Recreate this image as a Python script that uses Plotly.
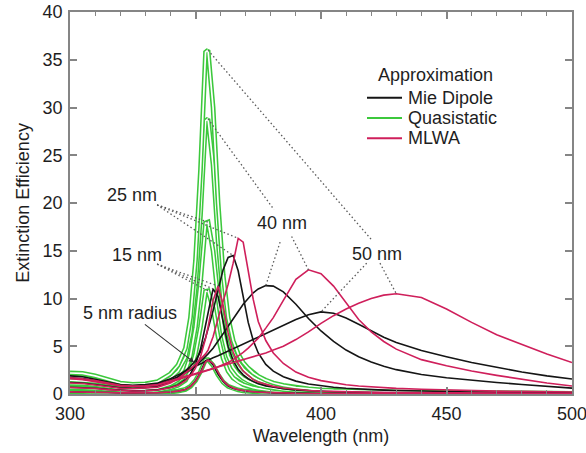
import plotly.graph_objects as go

# ---------------- data ----------------
WL = [300, 305, 310, 315, 320, 325, 330, 335, 340, 343, 346, 348, 350, 352, 354, 355, 357, 359,
      361, 363, 365, 367, 369, 371, 373, 375, 378, 381, 385, 390, 395, 400, 405, 410, 415, 420,
      425, 430, 440, 450, 460, 470, 480, 490, 500]

# Quasistatic
Q50 = [2.2, 2.15, 1.9, 1.5, 1.15, 1.0, 1.05, 1.3, 2.1, 3.0, 4.8, 8.0, 14.0, 23.5, 35.8, 36.0, 30.0, 20.0,
       12.5, 8.0, 5.6, 4.2, 3.3, 2.7, 2.2, 1.85, 1.45, 1.15, 0.9, 0.68, 0.54, 0.44, 0.37, 0.32, 0.28, 0.24,
       0.21, 0.19, 0.16, 0.13, 0.11, 0.1, 0.09, 0.08, 0.07]
Q40 = [1.76, 1.72, 1.52, 1.2, 0.92, 0.8, 0.84, 1.04, 1.68, 2.4, 3.84, 6.4, 11.2, 18.8, 28.6, 28.8, 24.0, 16.0,
       10.0, 6.4, 4.48, 3.36, 2.64, 2.16, 1.76, 1.48, 1.16, 0.92, 0.72, 0.54, 0.43, 0.35, 0.3, 0.26, 0.22, 0.19,
       0.17, 0.15, 0.13, 0.1, 0.09, 0.08, 0.07, 0.06, 0.06]
Q25 = [1.1, 1.08, 0.95, 0.75, 0.58, 0.5, 0.53, 0.65, 1.05, 1.5, 2.4, 4.0, 7.0, 11.75, 17.9, 18.0, 15.0, 10.0,
       6.25, 4.0, 2.8, 2.1, 1.65, 1.35, 1.1, 0.93, 0.73, 0.58, 0.45, 0.34, 0.27, 0.22, 0.19, 0.16, 0.14, 0.12,
       0.11, 0.1, 0.08, 0.07, 0.06, 0.05, 0.05, 0.04, 0.04]
Q15 = [0.66, 0.65, 0.57, 0.45, 0.35, 0.3, 0.32, 0.39, 0.63, 0.9, 1.44, 2.4, 4.2, 7.05, 10.74, 10.8, 9.0, 6.0,
       3.75, 2.4, 1.68, 1.26, 0.99, 0.81, 0.66, 0.56, 0.44, 0.35, 0.27, 0.2, 0.16, 0.13, 0.11, 0.1, 0.08, 0.07,
       0.06, 0.06, 0.05, 0.04, 0.03, 0.03, 0.03, 0.02, 0.02]
Q5 = [0.22, 0.22, 0.19, 0.15, 0.12, 0.1, 0.11, 0.13, 0.21, 0.3, 0.48, 0.8, 1.4, 2.35, 3.58, 3.6, 3.0, 2.0,
      1.25, 0.8, 0.56, 0.42, 0.33, 0.27, 0.22, 0.19, 0.15, 0.12, 0.09, 0.07, 0.05, 0.04, 0.04, 0.03, 0.03, 0.02,
      0.02, 0.02, 0.02, 0.01, 0.01, 0.01, 0.01, 0.01, 0.01]

# Mie dipole
M50 = [1.9, 1.8, 1.55, 1.25, 1.0, 0.92, 0.98, 1.15, 1.6, 2.0, 2.4, 2.65, 2.95, 3.2, 3.45, 3.55, 3.8, 4.0,
       4.25, 4.5, 4.75, 5.0, 5.25, 5.5, 5.75, 5.95, 6.35, 6.7, 7.2, 7.8, 8.3, 8.6, 8.45, 7.95, 7.3, 6.6,
       5.95, 5.4, 4.55, 3.9, 3.3, 2.8, 2.3, 1.9, 1.57]
M40 = [1.7, 1.62, 1.42, 1.15, 0.92, 0.85, 0.9, 1.05, 1.45, 1.8, 2.2, 2.5, 2.9, 3.4, 3.9, 4.2, 4.8, 5.5,
       6.3, 7.1, 7.9, 8.7, 9.4, 10.0, 10.6, 11.0, 11.35, 11.3, 10.7, 9.4, 7.9, 6.6, 5.5, 4.6, 3.9, 3.35,
       2.9, 2.55, 2.05, 1.7, 1.42, 1.2, 1.0, 0.8, 0.62]
M25 = [1.2, 1.15, 1.0, 0.8, 0.65, 0.6, 0.65, 0.8, 1.3, 1.8, 2.5, 2.9, 3.5, 4.4, 5.9, 6.8, 8.7, 10.9,
       13.0, 14.3, 14.5, 12.9, 10.0, 7.5, 5.6, 4.3, 3.1, 2.4, 1.8, 1.35, 1.05, 0.85, 0.7, 0.6, 0.52, 0.46,
       0.41, 0.37, 0.3, 0.25, 0.21, 0.18, 0.16, 0.14, 0.12]
M15 = [0.7, 0.68, 0.6, 0.48, 0.38, 0.33, 0.35, 0.43, 0.68, 0.95, 1.5, 2.1, 3.1, 4.7, 7.2, 8.6, 11.0, 10.2,
       7.4, 5.0, 3.5, 2.6, 2.0, 1.6, 1.3, 1.08, 0.85, 0.7, 0.55, 0.42, 0.34, 0.28, 0.24, 0.21, 0.18, 0.16,
       0.14, 0.13, 0.11, 0.09, 0.08, 0.07, 0.06, 0.06, 0.05]
M5 = [0.22, 0.22, 0.19, 0.15, 0.12, 0.1, 0.11, 0.13, 0.21, 0.3, 0.48, 0.79, 1.38, 2.3, 3.5, 3.6, 3.05, 2.05,
      1.3, 0.83, 0.58, 0.43, 0.34, 0.28, 0.23, 0.19, 0.15, 0.12, 0.09, 0.07, 0.05, 0.04, 0.04, 0.03, 0.03, 0.02,
      0.02, 0.02, 0.02, 0.01, 0.01, 0.01, 0.01, 0.01, 0.01]

# MLWA
L50 = [1.7, 1.6, 1.4, 1.12, 0.9, 0.82, 0.86, 1.0, 1.35, 1.6, 1.85, 2.0, 2.15, 2.3, 2.45, 2.52, 2.65, 2.8,
       2.95, 3.1, 3.25, 3.4, 3.55, 3.7, 3.85, 4.0, 4.3, 4.6, 5.0, 5.7, 6.5, 7.4, 8.2, 8.9, 9.5, 10.0,
       10.35, 10.5, 10.1, 8.9, 7.5, 6.2, 5.2, 4.2, 3.3]
L40 = [1.6, 1.5, 1.3, 1.05, 0.85, 0.78, 0.82, 0.95, 1.25, 1.5, 1.75, 1.9, 2.05, 2.2, 2.38, 2.47, 2.65, 2.85,
       3.05, 3.3, 3.6, 3.95, 4.35, 4.8, 5.3, 5.85, 6.9, 8.0, 9.8, 12.0, 13.0, 12.6, 11.3, 9.5, 7.8, 6.5,
       5.5, 4.7, 3.6, 2.95, 2.4, 1.95, 1.55, 1.15, 0.84]
L25 = [1.15, 1.1, 0.95, 0.76, 0.6, 0.55, 0.6, 0.72, 1.15, 1.6, 2.2, 2.6, 3.1, 3.6, 4.2, 4.6, 6.0, 7.9,
       9.6, 11.5, 13.7, 16.3, 15.9, 13.0, 9.9, 7.6, 5.6, 4.3, 3.2, 2.3, 1.75, 1.4, 1.15, 0.97, 0.84, 0.74,
       0.66, 0.59, 0.49, 0.41, 0.35, 0.3, 0.27, 0.24, 0.21]
L15 = [0.68, 0.66, 0.58, 0.46, 0.37, 0.32, 0.34, 0.42, 0.65, 0.9, 1.4, 1.9, 2.7, 3.9, 5.8, 7.0, 9.8, 11.3,
       9.3, 6.4, 4.4, 3.2, 2.4, 1.9, 1.5, 1.25, 1.0, 0.8, 0.62, 0.47, 0.37, 0.3, 0.26, 0.22, 0.19, 0.17,
       0.15, 0.14, 0.12, 0.1, 0.09, 0.08, 0.07, 0.06, 0.06]
L5 = [0.22, 0.22, 0.19, 0.15, 0.12, 0.1, 0.11, 0.13, 0.21, 0.3, 0.47, 0.77, 1.33, 2.2, 3.35, 3.55, 3.2, 2.25,
      1.4, 0.9, 0.62, 0.46, 0.36, 0.29, 0.24, 0.2, 0.16, 0.13, 0.1, 0.07, 0.06, 0.05, 0.04, 0.03, 0.03, 0.02,
      0.02, 0.02, 0.02, 0.01, 0.01, 0.01, 0.01, 0.01, 0.01]

LEGEND_NAMES = ["Mie Dipole", "Quasistatic", "MLWA"]
LEGEND_TITLE = "Approximation"
X_TICKS = [300, 350, 400, 450, 500]

# ---------------- styling ----------------
GREEN = "#3cc83c"
BLACK = "#151515"
RED = "#cf1f5b"
AXIS = "#858585"
TXT = "#1e1e1e"
FONT = "Liberation Sans, Arial, sans-serif"

# plot-area geometry (pixels)
W, H = 586, 453
ML, MR, MT, MB = 70, 14, 12, 59
PW, PH = W - ML - MR, H - MT - MB


def xp(px):
    return (px - ML) / PW


def yp(py):
    return (H - MB - py) / PH


fig = go.Figure()

for ys in [Q5, Q15, Q25, Q40, Q50]:
    fig.add_trace(go.Scatter(x=WL, y=ys, mode="lines", line=dict(color=GREEN, width=4.8),
                             showlegend=False, hoverinfo="skip"))
    fig.add_trace(go.Scatter(x=WL, y=ys, mode="lines", line=dict(color="white", width=1.7),
                             showlegend=False, hoverinfo="skip"))

for ys in [M5, M15, M25, M40, M50]:
    fig.add_trace(go.Scatter(x=WL, y=ys, mode="lines", line=dict(color=BLACK, width=1.6),
                             showlegend=False, hoverinfo="skip"))
for ys in [L5, L15, L25, L40, L50]:
    fig.add_trace(go.Scatter(x=WL, y=ys, mode="lines", line=dict(color=RED, width=1.6),
                             showlegend=False, hoverinfo="skip"))


def peak(ys):
    i = max(range(len(ys)), key=lambda k: ys[k])
    return WL[i], ys[i]


DOT = dict(color="#5a5a5a", width=1.3, dash="1.5px,2.5px")


def leader(x0, y0, x1, y1):
    fig.add_shape(type="line", xref="x", yref="y", x0=x0, y0=y0, x1=x1, y1=y1, line=DOT)


# 25 nm
for s in [Q25, M25, L25]:
    px, py = peak(s)
    leader(334.7, 19.8, px, py)
# 15 nm
for s in [Q15, M15, L15]:
    px, py = peak(s)
    leader(334.7, 13.6, px, py)
# 40 nm
px, py = peak(Q40); leader(px, py, 381.3, 19.3)
px, py = peak(M40); leader(383.7, 15.9, px, py)
px, py = peak(L40); leader(388.3, 16.5, px, py)
# 50 nm
px, py = peak(Q50); leader(px, py, 420.3, 16.1)
px, py = peak(M50); leader(418.2, 13.7, px, py)
px, py = peak(L50); leader(423.5, 13.7, px, py)

labels = [("25 nm", 324.6, 20.8), ("15 nm", 326.6, 14.55), ("40 nm", 384.3, 17.9), ("50 nm", 422.2, 14.7)]
for t, x, y in labels:
    fig.add_annotation(x=x, y=y, text=t, showarrow=False, font=dict(size=18, color=TXT, family=FONT))

fig.add_annotation(x=349.5, y=3.3, ax=323.9, ay=8.5, axref="x", ayref="y", text="5 nm radius",
                   showarrow=True, arrowhead=2, arrowsize=1, arrowwidth=1.1, arrowcolor="#333333",
                   font=dict(size=18, color=TXT, family=FONT))

# legend drawn by hand to match its compact spacing
fig.add_annotation(xref="paper", yref="paper", x=xp(435), y=yp(75), text=LEGEND_TITLE, showarrow=False,
                   xanchor="center", yanchor="middle", font=dict(size=18, color=TXT, family=FONT))
for name, col, py in zip(LEGEND_NAMES, [BLACK, GREEN, RED], [97.7, 118.0, 138.3]):
    fig.add_shape(type="line", xref="paper", yref="paper", x0=xp(367), x1=xp(402), y0=yp(py), y1=yp(py),
                  line=dict(color=col, width=2))
    fig.add_annotation(xref="paper", yref="paper", x=xp(406), y=yp(py), text=name, showarrow=False,
                       xanchor="left", yanchor="middle", font=dict(size=18, color=TXT, family=FONT))

axis_common = dict(showline=True, linecolor=AXIS, linewidth=1.5, mirror="ticks", ticks="inside",
                   ticklen=7, tickwidth=1.5, tickcolor=AXIS, showgrid=False, zeroline=False,
                   automargin=False, ticklabeloverflow="allow",
                   tickfont=dict(size=18, color=TXT, family=FONT))

fig.update_layout(
    width=W, height=H,
    margin=dict(l=ML, r=MR, t=MT, b=MB, autoexpand=False),
    paper_bgcolor="white", plot_bgcolor="white",
    font=dict(family=FONT, size=18, color=TXT),
    xaxis=dict(range=[299.999, 500.001], tickvals=X_TICKS,
               minor=dict(dtick=10, tick0=300, ticks="inside", ticklen=4, tickcolor=AXIS, tickwidth=1.2),
               ticklabelstandoff=3,
               title=dict(text="Wavelength (nm)", font=dict(size=18, color=TXT, family=FONT), standoff=6),
               **axis_common),
    yaxis=dict(range=[0, 40], dtick=5, tick0=0, ticklabelstandoff=2,
               title=dict(text="Extinction Efficiency", font=dict(size=18, color=TXT, family=FONT), standoff=8),
               **axis_common),
    showlegend=False,
)

fig.write_html("out.html")
